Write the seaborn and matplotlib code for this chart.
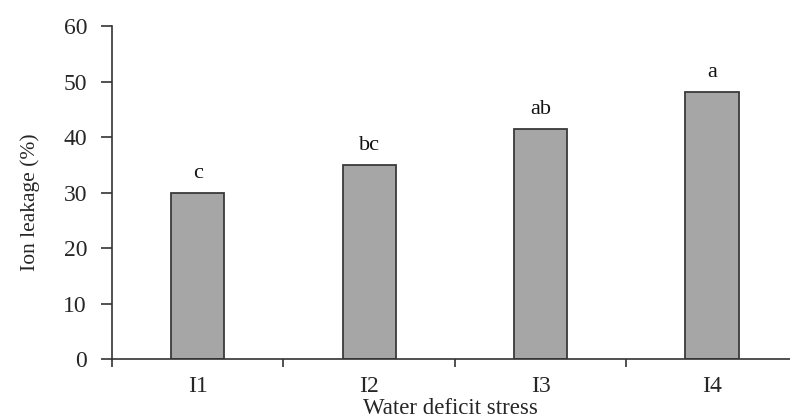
import matplotlib
matplotlib.use("Agg")
import matplotlib.pyplot as plt
import seaborn as sns
import pandas as pd
from matplotlib.ticker import FixedLocator, NullFormatter

# Ion leakage under four water-deficit levels
treatments = ["I1", "I2", "I3", "I4"]
ion_leakage = [30.0, 35.0, 41.5, 48.2]
letters = ["c", "bc", "ab", "a"]

df = pd.DataFrame({"treatment": treatments, "leakage": ion_leakage})

sns.set_style("white")
plt.rcParams["font.family"] = ["Liberation Serif", "DejaVu Serif"]

fig = plt.figure(figsize=(7.9, 4.19), dpi=100)
ax = fig.add_axes([0.1418, 0.1432, 0.868, 0.7947])

sns.barplot(data=df, x="treatment", y="leakage", ax=ax, width=0.31,
            color="#a6a6a6", saturation=1, edgecolor="#3a3a3a", linewidth=1.3)

for i, (v, lab) in enumerate(zip(ion_leakage, letters)):
    ax.text(i, v + 1.8, lab, ha="center", va="bottom", fontsize=16, color="#111111")

ax.set_xlim(-0.5, 3.5)
ax.set_ylim(0, 60)
ax.set_yticks(range(0, 61, 10))

for side in ("top", "right"):
    ax.spines[side].set_visible(False)
for side in ("left", "bottom"):
    ax.spines[side].set_color("#333333")
    ax.spines[side].set_linewidth(1.2)

ax.tick_params(axis="y", which="major", direction="out", length=8, width=1.2,
               color="#333333", labelsize=17, pad=10, left=True)
ax.tick_params(axis="x", which="major", length=0, labelsize=17, pad=12)
ax.xaxis.set_minor_locator(FixedLocator([-0.5, 0.5, 1.5, 2.5, 3.5]))
ax.xaxis.set_minor_formatter(NullFormatter())
ax.tick_params(axis="x", which="minor", direction="out", length=6, width=1.2,
               color="#333333", bottom=True)

ax.set_xlabel("Water deficit stress", fontsize=16.5)
ax.set_ylabel("Ion leakage (%)", fontsize=15.5)
ax.xaxis.set_label_coords(0.493, -0.117)
ax.yaxis.set_label_coords(-0.105, 0.47)

fig.savefig("out.png", dpi=100)
